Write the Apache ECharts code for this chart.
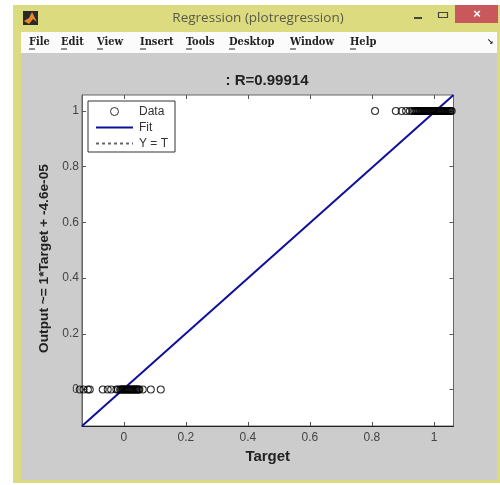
<!DOCTYPE html>
<html><head><meta charset="utf-8">
<style>html,body{margin:0;padding:0;background:#fff}#c{width:500px;height:485px}</style>
<script src="https://cdn.jsdelivr.net/npm/echarts@6/dist/echarts.min.js"></script>
</head><body><div id="c"></div>
<script>
const xTicks = [0, 0.2, 0.4, 0.6, 0.8, 1];
const yTicks = [0, 0.2, 0.4, 0.6, 0.8, 1];
const menuNames = ['File','Edit','View','Insert','Tools','Desktop','Window','Help'];
const menuLeft = [29,61,97,140,186,229,290,350];
const targetsAtOne = [0.81,0.877,0.896,0.91,0.922,0.93,0.936,0.94,0.944,0.947,0.95,0.953,0.956,0.959,0.962,0.965,0.968,0.971,0.974,0.977,0.98,0.983,0.986,0.989,0.992,0.995,0.998,1.0,1.003,1.006,1.009,1.012,1.015,1.018,1.021,1.024,1.027,1.03,1.033,1.036,1.039,1.042,1.045,1.048,1.051,1.054,1.057];
const targetsAtZero = [-0.142,-0.13,-0.116,-0.11,-0.068,-0.052,-0.041,-0.024,-0.019,-0.012,-0.009,-0.006,-0.003,0,0.003,0.006,0.009,0.012,0.015,0.018,0.021,0.024,0.027,0.03,0.033,0.036,0.039,0.042,0.045,0.048,0.05,0.061,0.087,0.119];
const fitLine = [[-0.135,-0.131],[1.063,1.0575]];
const identityLine = [[-0.135,-0.131],[1.063,1.0575]];

const chart = echarts.init(document.getElementById('c'), null, {renderer:'canvas'});
const sans = 'Liberation Sans';
const bg = (shape, fill) => ({type:'rect', shape, style:{fill}, z:-5, silent:true});
const chrome = [
  bg({x:13,y:5,width:487,height:478}, '#dcdb80'),
  bg({x:21,y:32,width:476,height:448}, '#cccccc'),
  bg({x:21,y:32,width:476,height:21}, '#fbfbfb'),
  bg({x:455,y:5,width:43,height:18}, '#c9585c'),
  bg({x:23,y:11,width:15,height:14}, '#2a2a2a'),
  {type:'polygon', shape:{points:[[24,21],[29,18],[32,12],[37,22],[33,19],[29,24]]}, style:{fill:'#e8882a'}, z:-4},
  {type:'line', shape:{x1:414,y1:18,x2:422,y2:18}, style:{stroke:'#444',lineWidth:2}, z:-4},
  {type:'rect', shape:{x:438.5,y:12.5,width:9,height:5}, style:{fill:'none',stroke:'#444',lineWidth:1.2}, z:-4},
  {type:'text', x:477, y:14, style:{text:'×', fill:'#fff', font:'bold 13px "'+sans+'"', align:'center', verticalAlign:'middle'}, z:-4},
  {type:'text', x:258, y:18, style:{text:'Regression (plotregression)', fill:'#5a5a4a', font:'13.5px "Open Sans"', align:'center', verticalAlign:'middle'}, z:-4},
  {type:'text', x:490, y:42, style:{text:'↘', fill:'#222', font:'bold 8px "DejaVu Sans"', align:'center', verticalAlign:'middle'}, z:-4}
];
menuNames.forEach((name,i)=>{
  chrome.push({type:'text', x:menuLeft[i], y:42.5, style:{text:name, fill:'#222', font:'bold 11px "DejaVu Serif Condensed","DejaVu Serif"', verticalAlign:'middle'}, z:-4});
  chrome.push({type:'line', shape:{x1:menuLeft[i],y1:49,x2:menuLeft[i]+6,y2:49}, style:{stroke:'#222',lineWidth:1}, z:-4});
});
const xRange = {min:-0.135, max:1.063};
const yRange = {min:-0.131, max:1.0575};
const tickStyle = {color:'#555'};
const noMark = {color:'rgba(0,0,0,0)',borderColor:'rgba(0,0,0,0)',borderWidth:0};

chart.setOption({
  animation:false,
  backgroundColor:'#ffffff',
  title:{text:': R=0.99914', left:262, top:68, textAlign:'center',
    textStyle:{fontFamily:sans,fontWeight:'bold',fontSize:15,color:'#222'}},
  grid:{left:82, top:95, width:371.5, height:331, show:true, backgroundColor:'#fff', borderColor:'#666', borderWidth:1},
  legend:{
    orient:'vertical', left:88, top:101, itemWidth:37, itemHeight:8, itemGap:4,
    backgroundColor:'#fff', borderColor:'#333', borderWidth:1, borderRadius:0,
    padding:[4.5,7,2.5,7], textStyle:{fontFamily:sans,fontSize:12,color:'#333',padding:[0,0,0,1]},
    data:[{name:'Data',itemStyle:{borderWidth:1}},{name:'Fit',itemStyle:noMark},{name:'Y = T',itemStyle:noMark}]
  },
  xAxis:[{type:'value', ...xRange, name:'Target', nameLocation:'middle', nameGap:15,
    nameTextStyle:{fontFamily:sans,fontWeight:'bold',fontSize:15,color:'#222'},
    splitLine:{show:false},
    axisLine:{onZero:false,lineStyle:{color:'#222'}},
    axisTick:{inside:true,length:4,customValues:xTicks,lineStyle:tickStyle},
    axisLabel:{customValues:xTicks,margin:6,fontFamily:sans,fontSize:12,color:'#444',formatter:v=>String(v)}},
   {type:'value', position:'top', ...xRange, splitLine:{show:false}, axisLine:{show:false,onZero:false},
    axisTick:{inside:true,length:4,customValues:xTicks,lineStyle:tickStyle}, axisLabel:{show:false}}],
  yAxis:[{type:'value', ...yRange, name:'Output ~= 1*Target + -4.6e-05', nameLocation:'middle', nameGap:26,
    nameTextStyle:{fontFamily:sans,fontWeight:'bold',fontSize:13.7,color:'#222',padding:[0,0,0,4]},
    splitLine:{show:false},
    axisLine:{onZero:false,lineStyle:{color:'#666'}},
    axisTick:{inside:true,length:4,customValues:yTicks,lineStyle:tickStyle},
    axisLabel:{customValues:yTicks,margin:3,fontFamily:sans,fontSize:12,color:'#444',formatter:v=>String(v)}},
   {type:'value', position:'right', ...yRange, splitLine:{show:false}, axisLine:{show:false,onZero:false},
    axisTick:{inside:true,length:4,customValues:yTicks,lineStyle:tickStyle}, axisLabel:{show:false}}],
  series:[
    {name:'Y = T', type:'line', data:identityLine, symbol:'none', z:2, lineStyle:{color:'#666',width:1,type:[3,3]}, itemStyle:{color:'#666'}},
    {name:'Fit', type:'line', data:fitLine, symbol:'none', z:3, lineStyle:{color:'#10109a',width:2}, itemStyle:{color:'#10109a'}},
    {name:'Data', type:'scatter', clip:false, symbol:'circle', symbolSize:7, z:4,
      itemStyle:{color:'rgba(255,255,255,0)',borderColor:'#000',borderWidth:1.1},
      data:targetsAtOne.map(t=>[t,1]).concat(targetsAtZero.map(t=>[t,0]))}
  ],
  graphic:{elements:chrome}
});
</script></body></html>
